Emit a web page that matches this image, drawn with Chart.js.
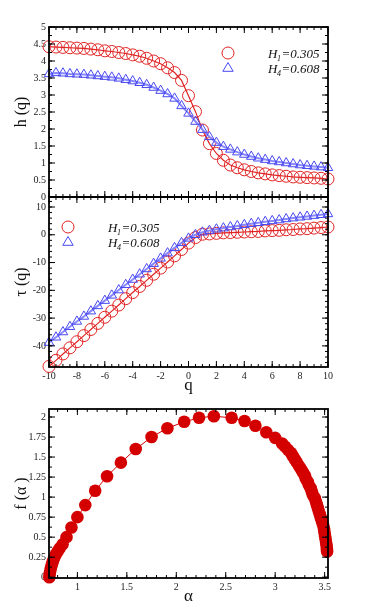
<!DOCTYPE html>
<html><head><meta charset="utf-8">
<script src="https://cdn.jsdelivr.net/npm/chart.js@4.4.1/dist/chart.umd.min.js"></script>
<style>
html,body{margin:0;padding:0;background:#fff;}
#wrap{position:relative;width:374px;height:605px;overflow:hidden;}
canvas{position:absolute;left:0;top:0;}
</style></head><body>
<div id="wrap">
<canvas id="c1" width="374" height="605"></canvas>
<canvas id="c2" width="374" height="605"></canvas>
<canvas id="c3" width="374" height="605"></canvas>
</div>
<script>
// ---------- data ----------
const qValues = [-10,-9.5,-9,-8.5,-8,-7.5,-7,-6.5,-6,-5.5,-5,-4.5,-4,-3.5,-3,-2.5,-2,-1.5,-1,-0.5,0,0.5,1,1.5,2,2.5,3,3.5,4,4.5,5,5.5,6,6.5,7,7.5,8,8.5,9,9.5,10];
const hH1 = [4.42,4.41,4.40,4.39,4.38,4.37,4.35,4.33,4.30,4.28,4.25,4.22,4.18,4.14,4.08,4.00,3.92,3.80,3.66,3.43,2.98,2.51,1.97,1.57,1.28,1.08,0.94,0.86,0.80,0.75,0.71,0.68,0.65,0.63,0.61,0.59,0.58,0.57,0.56,0.55,0.53];
const hH4 = [3.62,3.65,3.64,3.62,3.61,3.60,3.58,3.56,3.54,3.52,3.49,3.45,3.41,3.36,3.30,3.22,3.13,3.03,2.90,2.68,2.46,2.22,1.98,1.77,1.60,1.48,1.40,1.32,1.25,1.19,1.14,1.10,1.06,1.03,1.00,0.97,0.94,0.92,0.90,0.88,0.86];
const tauH1 = [-47.4,-45.2,-42.9,-40.7,-38.5,-36.3,-34.1,-31.9,-29.7,-27.5,-25.3,-23.0,-20.8,-18.6,-16.4,-14.2,-12.0,-9.8,-7.6,-5.3,-3.0,-1.0,0.2,0.3,0.5,0.7,0.8,0.9,1.0,1.1,1.2,1.4,1.5,1.6,1.8,1.9,2.1,2.2,2.4,2.6,2.8];
const tauH4 = [-38.8,-36.9,-35.0,-33.1,-31.2,-29.4,-27.5,-25.6,-23.7,-21.8,-19.9,-18.0,-16.1,-14.2,-12.3,-10.4,-8.5,-6.6,-4.7,-2.9,-1.3,0.0,0.9,1.5,2.0,2.4,2.8,3.2,3.6,4.0,4.3,4.7,5.0,5.3,5.7,6.0,6.3,6.6,6.9,7.2,7.5];
const alphaH1 = [0.716,0.720,0.726,0.733,0.742,0.752,0.765,0.780,0.800,0.820,0.850,0.890,0.940,1.000,1.080,1.180,1.300,1.440,1.590,1.750,1.910,2.080,2.230,2.380,2.560,2.690,2.800,2.910,3.000,3.070,
  3.100,3.130,3.160,3.180,3.200,3.220,3.240,3.260,3.280,3.300,3.310,3.330,3.340,3.360,3.370,3.380,3.400,3.410,3.420,3.430,3.440,3.450,3.460,3.470,3.480,3.490,3.495,3.500,3.505,3.510,3.515,3.520,3.523,3.525];
const fAlphaH1 = [0.000,0.040,0.080,0.120,0.160,0.200,0.240,0.280,0.320,0.360,0.410,0.500,0.620,0.750,0.900,1.080,1.260,1.430,1.600,1.750,1.860,1.940,1.990,2.010,1.990,1.950,1.890,1.810,1.740,1.670,
  1.630,1.590,1.550,1.510,1.470,1.430,1.390,1.350,1.310,1.270,1.230,1.190,1.150,1.110,1.070,1.030,0.990,0.950,0.910,0.870,0.830,0.790,0.750,0.710,0.670,0.630,0.590,0.550,0.510,0.470,0.430,0.390,0.350,0.320];
const hTicks = [0,0.5,1,1.5,2,2.5,3,3.5,4,4.5,5];
const tauTicks = [-40,-30,-20,-10,0,10];
const qTicks = [-10,-8,-6,-4,-2,0,2,4,6,8,10];
const alphaTicks = [1,1.5,2,2.5,3,3.5];
const fTicks = [0,0.25,0.5,0.75,1,1.25,1.5,1.75,2];
const seriesNames = [["H","1","=0.305"],["H","4","=0.608"]];

// ---------- styles ----------
const RED = '#e02424', BLUE = '#4848f0', BLUE_LINE = '#8888ff', DARKRED = '#d40000';
const SERIF = '"Liberation Serif","DejaVu Serif",serif';
Chart.defaults.font.family = SERIF;
Chart.defaults.color = '#222';

function pts(xs, ys){ return xs.map((x,i)=>({x:x, y:ys[i]})); }
function fixed(vals){ return function(scale){ scale.ticks = vals.map(v=>({value:v})); }; }
function fmt(v){ return String(v); }

function range(a,b,s){ const out=[]; const n=Math.round((b-a)/s); for(let i=0;i<=n;i++) out.push(a+i*s); return out; }

function framePlugin(cfg){
  return { id:'frameTicks', afterDraw(chart){
    const ctx=chart.ctx, a=chart.chartArea, x=chart.scales.x, y=chart.scales.y;
    ctx.save();
    ctx.strokeStyle='#000'; ctx.lineWidth=1;
    const ln=(x1,y1,x2,y2)=>{ctx.beginPath();ctx.moveTo(x1,y1);ctx.lineTo(x2,y2);ctx.stroke();};
    const xv=(v)=>x.getPixelForValue(v), yv=(v)=>y.getPixelForValue(v);
    cfg.xMinor.forEach(v=>{ if(v<x.min-1e-9||v>x.max+1e-9) return; const p=xv(v); ln(p,a.bottom,p,a.bottom-3); ln(p,a.top,p,a.top+3); });
    cfg.xMajor.forEach(v=>{ if(v<x.min-1e-9||v>x.max+1e-9) return; const p=xv(v); ln(p,a.bottom,p,a.bottom-6); ln(p,a.top,p,a.top+6); });
    cfg.yMinor.forEach(v=>{ if(v<y.min-1e-9||v>y.max+1e-9) return; const p=yv(v); ln(a.left,p,a.left+3,p); ln(a.right,p,a.right-3,p); });
    cfg.yMajor.forEach(v=>{ if(v<y.min-1e-9||v>y.max+1e-9) return; const p=yv(v); ln(a.left,p,a.left+6,p); ln(a.right,p,a.right-6,p); });
    ctx.lineWidth=1.8;
    ctx.strokeRect(a.left,a.top,a.right-a.left,a.bottom-a.top);
    // titles
    ctx.fillStyle='#111';
    ctx.font='16px '+SERIF;
    ctx.textAlign='center'; ctx.textBaseline='middle';
    if(cfg.yTitle){ ctx.save(); ctx.translate(22,(a.top+a.bottom)/2); ctx.rotate(-Math.PI/2); ctx.fillText(cfg.yTitle,0,0); ctx.restore(); }
    if(cfg.xTitle){ ctx.font='17px '+SERIF; ctx.fillText(cfg.xTitle,(a.left+a.right)/2,cfg.xTitleY); }
    // legend
    if(cfg.legend){
      const L=cfg.legend;
      seriesNames.forEach((nm,i)=>{
        const my=L.y+i*15;
        ctx.lineWidth=1;
        if(i===0){ ctx.strokeStyle=RED; ctx.beginPath(); ctx.arc(L.mx,my,6,0,Math.PI*2); ctx.stroke(); }
        else { ctx.strokeStyle=BLUE; ctx.beginPath(); ctx.moveTo(L.mx,my-5.5); ctx.lineTo(L.mx+5.2,my+3.3); ctx.lineTo(L.mx-5.2,my+3.3); ctx.closePath(); ctx.stroke(); }
        ctx.fillStyle='#111'; ctx.textAlign='left'; ctx.textBaseline='alphabetic';
        let tx=L.tx;
        ctx.font='italic 13px '+SERIF; ctx.fillText(nm[0],tx,my+4.5); tx+=ctx.measureText(nm[0]).width;
        ctx.font='italic 8px '+SERIF; ctx.fillText(nm[1],tx-0.5,my+7.5); tx+=ctx.measureText(nm[1]).width;
        ctx.font='italic 13px '+SERIF; ctx.fillText(nm[2],tx,my+4.5);
      });
    }
    ctx.restore();
  }};
}

function axisX(min,max,ticksVals,showLabels,h){
  return { type:'linear', min:min, max:max, grid:{display:false, drawTicks:false}, border:{display:false},
    afterBuildTicks: fixed(ticksVals),
    ticks:{ display:showLabels, padding:3, font:{size:10, family:SERIF}, color:'#222', maxRotation:0, autoSkip:false, callback:fmt },
    afterFit(s){ s.height=h; } };
}
function axisY(min,max,ticksVals){
  return { type:'linear', min:min, max:max, grid:{display:false, drawTicks:false}, border:{display:false},
    afterBuildTicks: fixed(ticksVals),
    ticks:{ padding:3, font:{size:10, family:SERIF}, color:'#222', autoSkip:false, callback:fmt },
    afterFit(s){ s.width=49; } };
}
const common = { responsive:false, animation:false, events:[], plugins:{legend:{display:false}, tooltip:{enabled:false}} };

// ---------- top: h(q) ----------
new Chart(document.getElementById('c1'), {
  type:'line',
  data:{ datasets:[
    { data:pts(qValues,hH4), borderColor:BLUE_LINE, borderWidth:2, pointStyle:'triangle', pointRadius:5.5, pointBorderColor:BLUE, pointBackgroundColor:'rgba(0,0,0,0)', pointBorderWidth:1, clip:false },
    { data:pts(qValues,hH1), borderColor:RED, borderWidth:1.2, pointStyle:'circle', pointRadius:6, pointBorderColor:RED, pointBackgroundColor:'rgba(0,0,0,0)', pointBorderWidth:1, clip:false }
  ]},
  options:Object.assign({}, common, {
    layout:{ padding:{left:0, top:27, right:46, bottom:408} },
    scales:{ x:axisX(-10,10,qTicks,false,0), y:axisY(0,5,hTicks) }
  }),
  plugins:[framePlugin({ xMajor:qTicks, xMinor:range(-10,10,0.5), yMajor:hTicks, yMinor:range(0,5,0.25), yTitle:'h (q)', legend:{mx:228, tx:268, y:53} })]
});

// ---------- middle: tau(q) ----------
new Chart(document.getElementById('c2'), {
  type:'line',
  data:{ datasets:[
    { data:pts(qValues,tauH4), borderColor:BLUE_LINE, borderWidth:2, pointStyle:'triangle', pointRadius:5.5, pointBorderColor:BLUE, pointBackgroundColor:'rgba(0,0,0,0)', pointBorderWidth:1, clip:false },
    { data:pts(qValues,tauH1), borderColor:RED, borderWidth:1.2, pointStyle:'circle', pointRadius:6, pointBorderColor:RED, pointBackgroundColor:'rgba(0,0,0,0)', pointBorderWidth:1, clip:false }
  ]},
  options:Object.assign({}, common, {
    layout:{ padding:{left:0, top:197, right:46, bottom:208} },
    scales:{ x:axisX(-10,10,qTicks,true,30), y:axisY(-47.6,13.6,tauTicks) }
  }),
  plugins:[framePlugin({ xMajor:qTicks, xMinor:range(-10,10,0.5), yMajor:tauTicks, yMinor:range(-46,12,2), yTitle:'τ (q)', xTitle:'q', xTitleY:386, legend:{mx:68, tx:108, y:227} })]
});

// ---------- bottom: f(alpha) ----------
new Chart(document.getElementById('c3'), {
  type:'line',
  data:{ datasets:[
    { data:pts(alphaH1,fAlphaH1), borderColor:DARKRED, borderWidth:1, pointStyle:'circle', pointRadius:6.3, pointBorderColor:DARKRED, pointBackgroundColor:DARKRED, pointBorderWidth:0, clip:false }
  ]},
  options:Object.assign({}, common, {
    layout:{ padding:{left:0, top:409, right:46, bottom:0} },
    scales:{ x:axisX(0.713,3.534,alphaTicks,true,27), y:axisY(-0.01,2.1,fTicks) }
  }),
  plugins:[framePlugin({ xMajor:alphaTicks, xMinor:range(0.8,3.5,0.1), yMajor:fTicks, yMinor:range(0,2.1,0.125), yTitle:'f (α )', xTitle:'α', xTitleY:597 })]
});
</script>
</body></html>
